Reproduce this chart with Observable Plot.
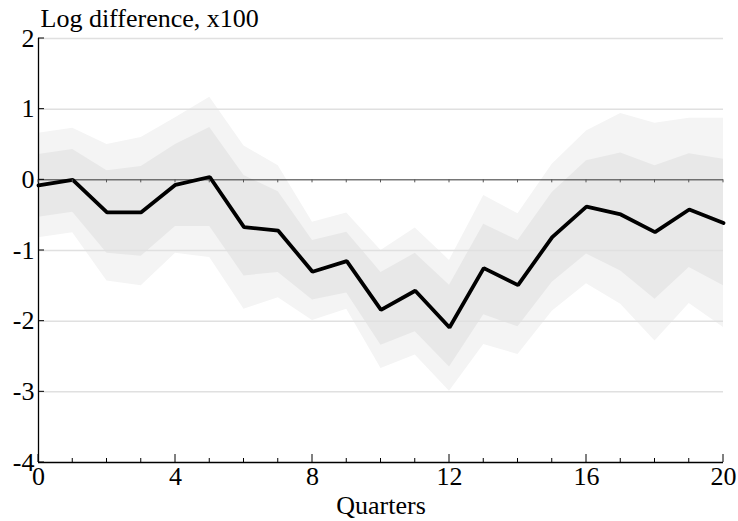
<!DOCTYPE html>
<html>
<head>
<meta charset="utf-8">
<script src="https://cdn.jsdelivr.net/npm/d3@7"></script>
<script src="https://cdn.jsdelivr.net/npm/@observablehq/plot@0.6"></script>
<style>
  body { margin: 0; background: #fff; }
  svg { display: block; }
</style>
</head>
<body>
<div id="chart"></div>
<script>
const quarters = [0,1,2,3,4,5,6,7,8,9,10,11,12,13,14,15,16,17,18,19,20];
const estimate = [-0.08, 0.0, -0.46, -0.46, -0.07, 0.04, -0.67, -0.72, -1.30, -1.15, -1.84, -1.57, -2.09, -1.25, -1.49, -0.81, -0.38, -0.49, -0.74, -0.42, -0.61];
const innerUpper = [0.36, 0.43, 0.13, 0.19, 0.50, 0.74, 0.06, -0.17, -0.86, -0.74, -1.31, -1.04, -1.49, -0.63, -0.86, -0.18, 0.27, 0.38, 0.20, 0.37, 0.29];
const innerLower = [-0.53, -0.46, -1.04, -1.08, -0.66, -0.66, -1.36, -1.31, -1.70, -1.60, -2.34, -2.15, -2.65, -1.91, -2.08, -1.45, -1.05, -1.29, -1.69, -1.24, -1.50];
const outerUpper = [0.66, 0.73, 0.50, 0.60, 0.88, 1.17, 0.48, 0.20, -0.60, -0.47, -1.00, -0.68, -1.14, -0.22, -0.48, 0.22, 0.69, 0.94, 0.80, 0.87, 0.87];
const outerLower = [-0.82, -0.75, -1.43, -1.50, -1.04, -1.10, -1.83, -1.67, -1.99, -1.83, -2.67, -2.48, -2.99, -2.33, -2.47, -1.86, -1.47, -1.76, -2.28, -1.75, -2.09];

const xMajorTicks = [0, 4, 8, 12, 16, 20];
const yTicks = [-4, -3, -2, -1, 0, 1, 2];
const gridValues = [-3, -2, -1, 1, 2];
const title = "Log difference, x100";
const xLabel = "Quarters";

const data = quarters.map((q, i) => ({
  q, est: estimate[i], iu: innerUpper[i], il: innerLower[i], ou: outerUpper[i], ol: outerLower[i]
}));

const font = "'Liberation Serif', 'DejaVu Serif', serif";

const chart = Plot.plot({
  width: 738,
  height: 521,
  marginLeft: 38,
  marginRight: 15,
  marginTop: 38,
  marginBottom: 59,
  style: { fontFamily: font, fontSize: "26px", color: "#000", background: "#fff" },
  x: { type: "linear", domain: [0, 20], axis: null },
  y: { type: "linear", domain: [-4, 2], axis: null },
  marks: [
    Plot.areaY(data, { x: "q", y1: "ol", y2: "ou", fill: "#f4f4f4" }),
    Plot.areaY(data, { x: "q", y1: "il", y2: "iu", fill: "#e8e8e8" }),
    Plot.ruleY(gridValues, { stroke: "#e0e0e0", strokeWidth: 1.5 }),
    Plot.ruleY([0], { stroke: "#333", strokeWidth: 1 }),
    Plot.lineY(data, { x: "q", y: "est", stroke: "#000", strokeWidth: 3.8, strokeLinejoin: "miter" }),
    Plot.ruleX([0], { stroke: "#000", strokeWidth: 1.3 }),
    Plot.ruleY([-4], { stroke: "#000", strokeWidth: 1.3 }),
    Plot.text(xMajorTicks, { x: d => d, y: () => -4, text: d => String(d), lineAnchor: "top", dy: 4.5, fontSize: 26, fill: "#000" }),
    Plot.text(yTicks, { x: () => 0, y: d => d, text: d => String(d), textAnchor: "end", lineAnchor: "middle", dx: -4, fontSize: 26, fill: "#000" }),
    Plot.text([title], { frameAnchor: "top-left", lineAnchor: "top", dx: 2, dy: -30, textAnchor: "start", fontSize: 26, fill: "#000" }),
    Plot.text([xLabel], { frameAnchor: "bottom", lineAnchor: "top", dy: 33, fontSize: 26, fill: "#000" })
  ]
});

// inward tick marks positioned via the Plot scales
const xs = chart.scale("x");
const ys = chart.scale("y");
const svgNS = "http://www.w3.org/2000/svg";
const g = document.createElementNS(svgNS, "g");
g.setAttribute("stroke", "#000");
g.setAttribute("stroke-width", "1");
quarters.forEach(q => {
  const px = xs.apply(q);
  const py = ys.apply(-4);
  const len = xMajorTicks.includes(q) ? 8 : 4;
  const l = document.createElementNS(svgNS, "line");
  l.setAttribute("x1", px); l.setAttribute("x2", px);
  l.setAttribute("y1", py); l.setAttribute("y2", py - len);
  g.appendChild(l);
  const z = ys.apply(0);
  const l2 = document.createElementNS(svgNS, "line");
  l2.setAttribute("x1", px); l2.setAttribute("x2", px);
  l2.setAttribute("y1", z); l2.setAttribute("y2", z + 3);
  l2.setAttribute("stroke", "#555");
  g.appendChild(l2);
});
yTicks.forEach(v => {
  const px = xs.apply(0);
  const py = ys.apply(v);
  const l = document.createElementNS(svgNS, "line");
  l.setAttribute("x1", px); l.setAttribute("x2", px + 6);
  l.setAttribute("y1", py); l.setAttribute("y2", py);
  g.appendChild(l);
});
chart.appendChild(g);
document.getElementById("chart").appendChild(chart);
</script>
</body>
</html>
